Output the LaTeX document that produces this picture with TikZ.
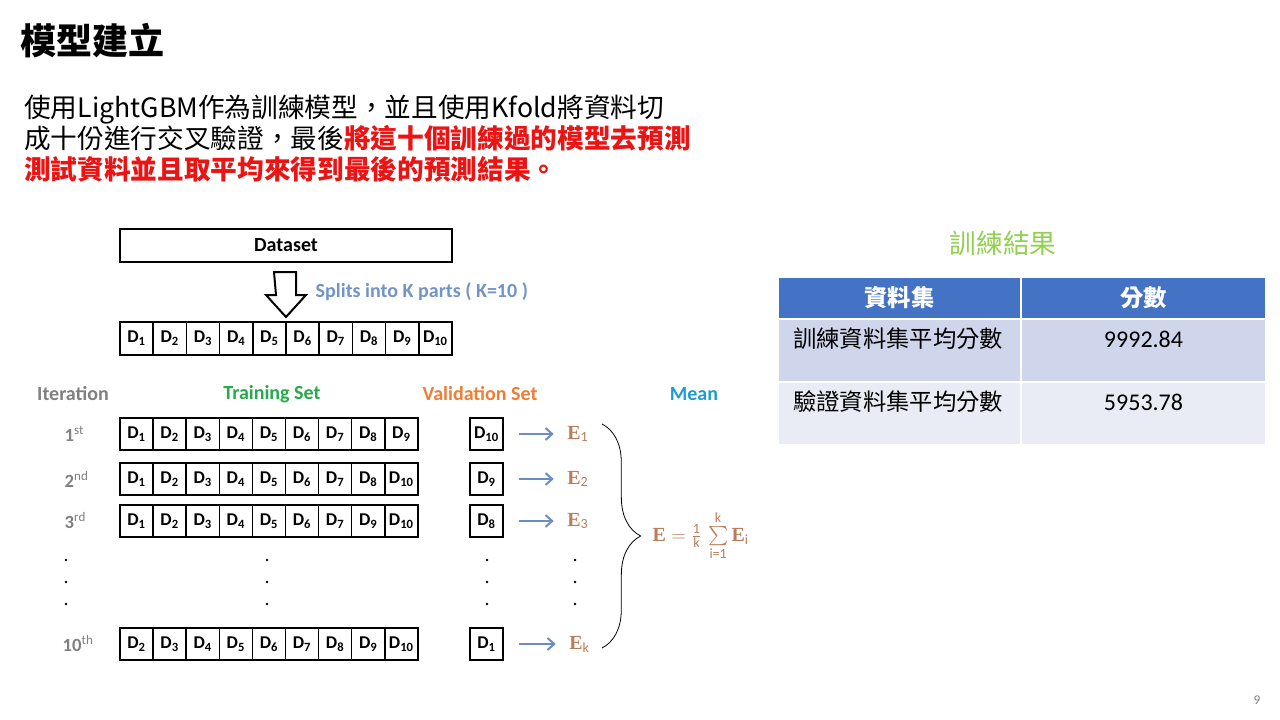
\documentclass[tikz,border=0pt]{standalone}
\usepackage{amsmath}
\usepackage{fontspec}
\usepackage{xcolor}
\usetikzlibrary{arrows.meta,positioning,decorations.pathreplacing,calc}
\setmainfont{Carlito}
\newfontfamily\cjk{Noto Sans CJK TC}
\newfontfamily\efont{Liberation Serif}
\definecolor{splitBlue}{RGB}{114,148,198}
\definecolor{arrowBlue}{RGB}{106,142,196}
\definecolor{iterGray}{RGB}{128,128,128}
\definecolor{trainGreen}{RGB}{38,170,76}
\definecolor{valOrange}{RGB}{240,125,50}
\definecolor{meanBlue}{RGB}{30,155,215}
\definecolor{eBrown}{RGB}{185,125,90}
\definecolor{tableBlue}{RGB}{68,114,196}
\definecolor{rowOne}{RGB}{207,213,234}
\definecolor{rowTwo}{RGB}{233,235,245}
\definecolor{resultGreen}{RGB}{146,208,80}
\definecolor{noteRed}{RGB}{235,20,20}
\newcommand{\dpart}[1]{\textbf{D\textsubscript{#1}}}
\newcommand{\epart}[1]{{\efont\bfseries E}\textsubscript{#1}}
\newcommand{\bigE}{\text{\efont\bfseries E}}
\tikzset{
  dcell/.style={draw, line width=1.1pt, minimum width=24.9pt, minimum height=24pt,
    inner sep=0pt, outer sep=0pt, font=\fontsize{13.5}{14}\selectfont},
  vcell/.style={dcell, line width=2pt},
  head/.style={font=\fontsize{15}{16}\selectfont\bfseries, text=#1},
  itlabel/.style={anchor=west, text=iterGray, font=\fontsize{14}{15}\selectfont\bfseries},
  elabel/.style={anchor=west, inner sep=0pt, text=eBrown, font=\fontsize{15}{16}\selectfont},
  earr/.style={-{Straight Barb[length=5pt,width=9pt]}, line width=1.5pt, color=arrowBlue,
    shorten <=12pt, shorten >=10pt},
  tcell/.style={inner sep=0pt, outer sep=0pt, minimum height=#1},
  ttext/.style={font=\cjk\fontsize{17.5}{20}\selectfont},
  tnum/.style={font=\fontsize{18}{20}\selectfont},
}

\begin{document}
\begin{tikzpicture}[x=0.75pt,y=-0.75pt]
\fill[white] (0,0) rectangle (1280,720);
\useasboundingbox (0,0) rectangle (1280,720);

%% TITLE AND TEXT
\node[anchor=base west, inner sep=0pt, font=\cjk\fontsize{27}{30}\selectfont\bfseries]
  (title) at (20,55) {模型建立};
\node[anchor=base west, inner sep=0pt, font=\cjk\fontsize{20}{24}\selectfont]
  (line1) at (24,118) {使用LightGBM作為訓練模型，並且使用Kfold將資料切};
\node[anchor=base west, inner sep=0pt, font=\cjk\fontsize{20}{24}\selectfont]
  (line2) at (24,149) {成十份進行交叉驗證，最後{\color{noteRed}\bfseries 將這十個訓練過的模型去預測}};
\node[anchor=base west, inner sep=0pt, font=\cjk\fontsize{20}{24}\selectfont\bfseries, text=noteRed]
  (line3) at (24,180) {測試資料並且取平均來得到最後的預測結果。};

%% DATASET AND SPLIT
\node[draw, line width=1.5pt, minimum width=249pt, minimum height=24.75pt,
      font=\fontsize{15}{16}\selectfont\bfseries] (dataset) at (286,245.5) {Dataset};
\draw[line width=1.5pt] ($(dataset.south)+(-12,9)$) -- ++(22,0) -- ++(0,23) -- ++(10,0)
  -- ++(-20,22) -- ++(-20,-22) -- ++(10,0) -- cycle;
\node[anchor=west, text=splitBlue, font=\fontsize{15}{16}\selectfont\bfseries]
  (splits) at (311,292) {Splits into K parts ( K=10 )};
\foreach \lab [count=\i] in {1,...,10}
  \node[dcell, minimum height=24.75pt] (d\i) at ({120+33.2*(\i-0.5)},338.5) {\dpart{\lab}};

%% HEADERS
\node[head=iterGray] (hIter) at (73,394) {Iteration};
\node[head=trainGreen] (hTrain) at (272,394) {Training Set};
\node[head=valOrange] (hVal) at (480,394) {Validation Set};
\node[head=meanBlue] (hMean) at (694,394) {Mean};

%% ITERATIONS
\node[itlabel] (it1) at (60,434) {1\textsuperscript{\mdseries st}};
\node[itlabel] (it2) at (60,479) {2\textsuperscript{\mdseries nd}};
\node[itlabel] (it3) at (60,521) {3\textsuperscript{\mdseries rd}};
\node[itlabel] (itk) at (58,644) {10\textsuperscript{\mdseries th}};

\foreach \lab [count=\i] in {1,2,3,4,5,6,7,8,9}
  \node[dcell] (ra\i) at ({120+33.1*(\i-0.5)},434) {\dpart{\lab}};
\foreach \lab [count=\i] in {1,2,3,4,5,6,7,8,10}
  \node[dcell] (rb\i) at ({120+33.1*(\i-0.5)},479) {\dpart{\lab}};
\foreach \lab [count=\i] in {1,2,3,4,5,6,7,9,10}
  \node[dcell] (rc\i) at ({120+33.1*(\i-0.5)},521) {\dpart{\lab}};
\foreach \lab [count=\i] in {2,3,4,5,6,7,8,9,10}
  \node[dcell] (rk\i) at ({120+33.1*(\i-0.5)},644) {\dpart{\lab}};

\node[vcell] (v1) at (486.5,434) {\dpart{10}};
\node[vcell] (v2) at (486.5,479) {\dpart{9}};
\node[vcell] (v3) at (486.5,521) {\dpart{8}};
\node[vcell] (vk) at (486.5,644) {\dpart{1}};

\node[elabel] (e1) at (567,434) {\epart{1}};
\node[elabel] (e2) at (567,479) {\epart{2}};
\node[elabel] (e3) at (567,521) {\epart{3}};
\node[elabel] (ek) at (569,644) {\epart{k}};

% dots
\foreach \x in {66,267,487,575}
  \foreach \y in {560,582,604}
    \fill (\x,\y) circle (1.3);

%% MEAN
\coordinate (btop) at (602,424);
\coordinate (bbot) at (602,648);
\draw[line width=0.6pt, decorate, decoration={brace, amplitude=29pt}] (btop) -- (bbot);
\node[anchor=west, text=eBrown, font=\fontsize{15}{16}\selectfont] (mean) at (648,536)
  {$\bigE = \frac{\text{1}}{\text{k}}\,\sum\limits_{\text{i=1}}^{\text{k}}\bigE_{\text{i}}$};

%% ARROWS
\draw[earr] (v1) -- (e1);
\draw[earr] (v2) -- (e2);
\draw[earr] (v3) -- (e3);
\draw[earr] (vk) -- (ek);

%% RESULT TABLE
\node[ttext, font=\cjk\fontsize{20}{24}\selectfont, text=resultGreen] (resTitle) at (1003,243) {訓練結果};
\node[tcell=30pt, minimum width=180.75pt, fill=tableBlue] (h1) at (899.5,298)
  {\cjk\fontsize{17.5}{20}\selectfont\bfseries\color{white}資料集};
\node[tcell=30pt, minimum width=182.25pt, fill=tableBlue] (h2) at (1143.5,298)
  {\cjk\fontsize{17.5}{20}\selectfont\bfseries\color{white}分數};
\node[tcell=45.75pt, minimum width=180.75pt, fill=rowOne] (c11) at (899.5,350.5) {};
\node[tcell=45.75pt, minimum width=182.25pt, fill=rowOne] (c12) at (1143.5,350.5) {};
\node[tcell=45.75pt, minimum width=180.75pt, fill=rowTwo] (c21) at (899.5,413.5) {};
\node[tcell=45.75pt, minimum width=182.25pt, fill=rowTwo] (c22) at (1143.5,413.5) {};
\node[ttext, anchor=west, inner sep=0pt] (t11) at ($(c11.north west)+(14,19)$) {訓練資料集平均分數};
\node[tnum] (t12) at ($(c12.north)+(0,19)$) {9992.84};
\node[ttext, anchor=west, inner sep=0pt] (t21) at ($(c21.north west)+(14,19)$) {驗證資料集平均分數};
\node[tnum] (t22) at ($(c22.north)+(0,19)$) {5953.78};

\node[text=iterGray, font=\fontsize{10}{12}\selectfont] (page) at (1257,700) {9};
\end{tikzpicture}
\end{document}
